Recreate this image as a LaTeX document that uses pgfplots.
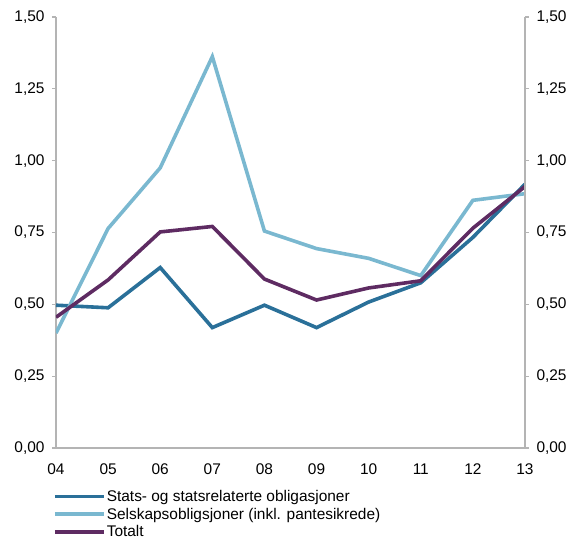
\documentclass[border=0pt]{standalone}
\usepackage{fontspec}
\setmainfont{Liberation Sans}
\usepackage{pgfplots}
\pgfplotsset{compat=1.18}
\definecolor{stat}{HTML}{2A7099}
\definecolor{selsk}{HTML}{7AB8D0}
\definecolor{tot}{HTML}{5E2B62}
\definecolor{axgray}{HTML}{B4B4B4}

\pgfplotsset{
  common/.style={
    scale only axis, width=469bp, height=431bp,
    xmin=4, xmax=13, ymin=0, ymax=1.5,
    ytick={0,0.25,...,1.5},
    yticklabel style={/pgf/number format/fixed, /pgf/number format/fixed zerofill,
      /pgf/number format/precision=2, /pgf/number format/use comma,
      /pgf/number format/assume math mode=true},
    tick align=outside, major tick length=4bp,
    axis line style={axgray, line width=1.2pt},
    tick style={axgray, line width=1.2pt},
    font=\fontsize{15.5}{18}\selectfont,
  }
}

\begin{document}
\begin{tikzpicture}
\begin{axis}[common, name=ax,
  axis x line*=bottom, axis y line*=left,
  xtick={4,...,13},
  xticklabels={04,05,06,07,08,09,10,11,12,13},
  x tick style={draw=none},
  xticklabel style={yshift=-8bp},
  yticklabel style={xshift=-4bp},
  legend style={at={(0,0)}, anchor=north west, xshift=-3bp, yshift=-41bp,
    draw=none, fill=none, row sep=3bp, font=\fontsize{15.5}{18}\selectfont,
    inner sep=0pt, nodes={inner sep=1bp}},
  legend cell align=left,
  legend image code/.code={\draw[#1] (0bp,0bp) -- (49bp,0bp);},
]
\addplot[stat, line width=3.6bp] coordinates {
  (4,0.497) (5,0.488) (6,0.628) (7,0.419) (8,0.497) (9,0.419) (10,0.508) (11,0.575) (12,0.733) (13,0.918)};
\addlegendentry{Stats- og statsrelaterte obligasjoner}
\addplot[selsk, line width=3.6bp] coordinates {
  (4,0.400) (5,0.764) (6,0.975) (7,1.362) (8,0.755) (9,0.694) (10,0.660) (11,0.600) (12,0.862) (13,0.885)};
\addlegendentry{Selskapsobligsjoner (inkl. pantesikrede)}
\addplot[tot, line width=3.6bp] coordinates {
  (4,0.455) (5,0.585) (6,0.752) (7,0.771) (8,0.588) (9,0.515) (10,0.557) (11,0.582) (12,0.765) (13,0.910)};
\addlegendentry{Totalt}
\end{axis}
\begin{axis}[common,
  axis x line=none, axis y line*=right,
  yticklabel style={xshift=4bp},
]
\end{axis}
\pgfresetboundingbox
\path ([shift={(-56bp,-93bp)}]ax.south west) rectangle ([shift={(526bp,17bp)}]ax.north west);
\end{tikzpicture}
\end{document}
